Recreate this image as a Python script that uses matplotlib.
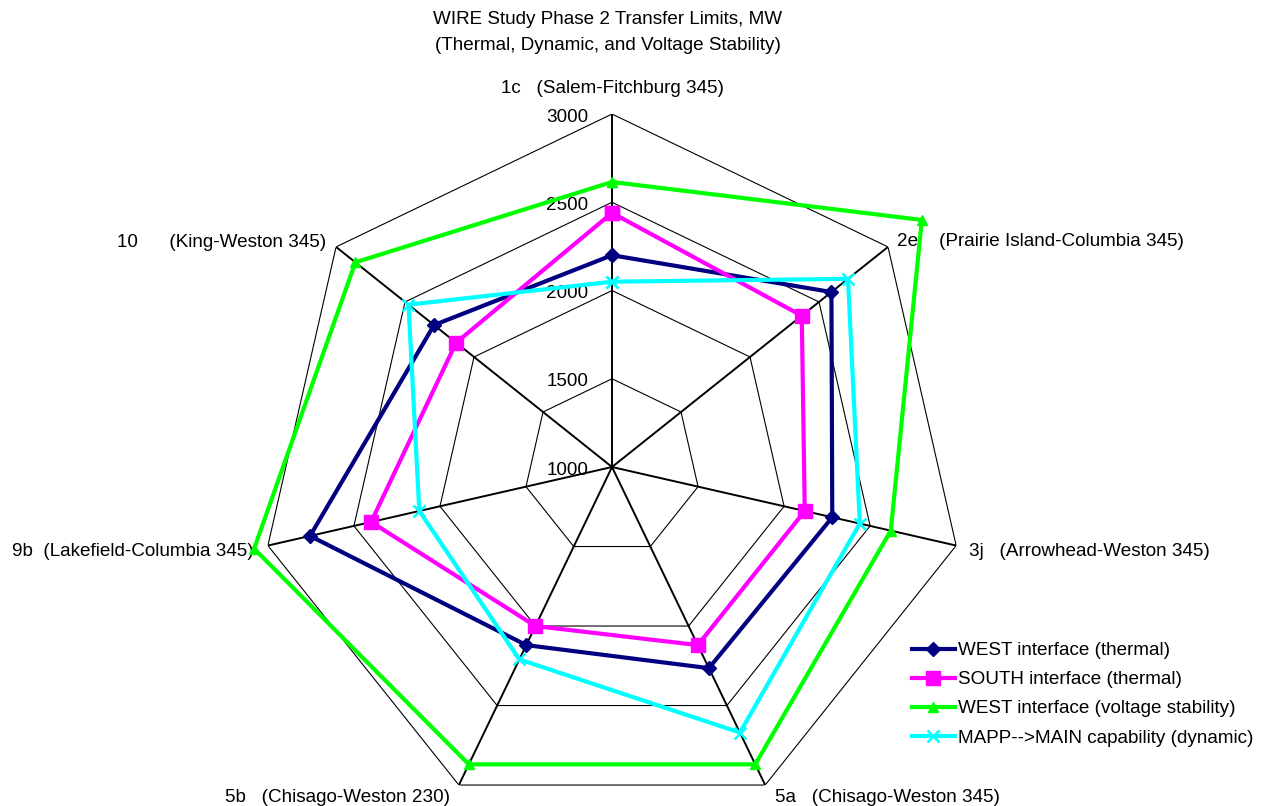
import numpy as np
import matplotlib
matplotlib.use("Agg")
import matplotlib.pyplot as plt

plt.rcParams["font.family"] = ["Liberation Sans", "DejaVu Sans"]

TITLE_1 = "WIRE Study Phase 2 Transfer Limits, MW"
TITLE_2 = "(Thermal, Dynamic, and Voltage Stability)"

CATEGORIES = [
    "1c   (Salem-Fitchburg 345)",
    "2e    (Prairie Island-Columbia 345)",
    "3j   (Arrowhead-Weston 345)",
    "5a   (Chisago-Weston 345)",
    "5b   (Chisago-Weston 230)",
    "9b  (Lakefield-Columbia 345)",
    "10      (King-Weston 345)",
]
RING_LEVELS = [1000, 1500, 2000, 2500, 3000]

WEST_THERMAL = [2200, 2590, 2280, 2265, 2120, 2755, 2290]
SOUTH_THERMAL = [2440, 2375, 2120, 2120, 2000, 2400, 2130]
WEST_VOLTAGE = [2615, 3245, 2620, 2870, 2870, 3080, 2860]
MAPP_MAIN = [2050, 2710, 2440, 2670, 2210, 2120, 2475]

SERIES = [
    ("WEST interface (thermal)", WEST_THERMAL, "#000080", "D", 7),
    ("SOUTH interface (thermal)", SOUTH_THERMAL, "#FF00FF", "s", 10),
    ("WEST interface (voltage stability)", WEST_VOLTAGE, "#00FF00", "^", 7),
    ("MAPP-->MAIN capability (dynamic)", MAPP_MAIN, "#00FFFF", "x", 8),
]

FS = 13.6

# label offsets (pixels) from the outer vertex of each spoke
LABEL_OFFSETS = [
    ((0, 26), "center"),
    ((9, 5), "left"),
    ((13, -6), "left"),
    ((10, -12), "left"),
    ((-9, -12), "right"),
    ((-14, -6), "right"),
    ((-10, 4), "right"),
]


def main() -> None:
    fig = plt.figure(figsize=(12.74, 8.06), dpi=100)
    ax = fig.add_axes([0.2033, -0.01737, 0.5542, 0.8759], projection="polar")
    ax.set_theta_zero_location("N")
    ax.set_theta_direction(-1)
    ax.set_ylim(RING_LEVELS[0], RING_LEVELS[-1])
    ax.grid(False)
    ax.set_xticks([])
    ax.set_yticks([])
    ax.spines["polar"].set_visible(False)

    n = len(CATEGORIES)
    thetas = np.arange(n) * 2 * np.pi / n
    closed = np.append(thetas, thetas[0])

    for level in RING_LEVELS[1:]:
        ax.plot(closed, [level] * (n + 1), color="black", lw=0.8, zorder=1)
    for t in thetas:
        ax.plot([t, t], [RING_LEVELS[0], RING_LEVELS[-1]], color="black",
                lw=1.4, zorder=1)

    for level in RING_LEVELS:
        ax.annotate(str(level), xy=(0, level), xytext=(-24, -3),
                    textcoords="offset pixels", ha="right", va="center",
                    fontsize=FS)

    for t, label, (off, ha) in zip(thetas, CATEGORIES, LABEL_OFFSETS):
        ax.annotate(label, xy=(t, RING_LEVELS[-1]), xytext=off,
                    textcoords="offset pixels", ha=ha, va="center",
                    fontsize=FS, annotation_clip=False)

    handles = []
    for i, (name, vals, color, marker, ms) in enumerate(SERIES):
        vals = list(vals) + [vals[0]]
        mew = 1.8 if marker == "x" else 1
        (line,) = ax.plot(closed, vals, color=color, lw=3, marker=marker,
                          markersize=ms, markeredgewidth=mew, label=name,
                          clip_on=False, zorder=3 + i)
        handles.append(line)

    fig.legend(handles=handles, loc="upper left",
               bbox_to_anchor=(912 / 1274, 1 - 642 / 806), frameon=False,
               fontsize=FS, handlelength=2.25, handletextpad=0.2,
               labelspacing=0.63, borderpad=0, borderaxespad=0)

    fig.text(608 / 1274, 1 - 20 / 806, TITLE_1, ha="center", va="center",
             fontsize=FS)
    fig.text(608 / 1274, 1 - 45 / 806, TITLE_2, ha="center", va="center",
             fontsize=FS)

    fig.savefig("out.png", dpi=100)
    plt.close(fig)


if __name__ == "__main__":
    main()
